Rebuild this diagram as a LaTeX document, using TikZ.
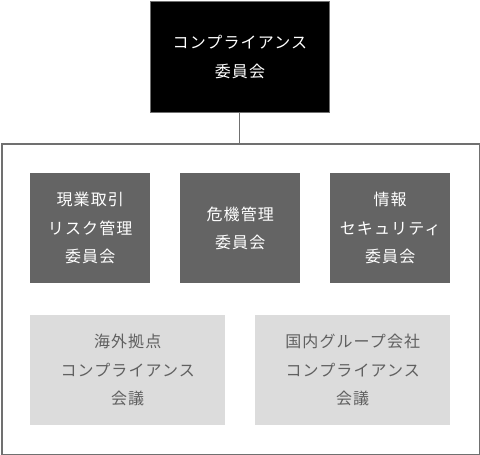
\documentclass[tikz,border=0pt]{standalone}
\usepackage{fontspec}
\newfontfamily\jp[LetterSpace=7]{Noto Sans CJK JP}
\definecolor{darkbox}{HTML}{646464}
\definecolor{lightbox}{HTML}{DCDCDC}
\definecolor{lighttext}{HTML}{606060}
\definecolor{frameline}{HTML}{707070}
\begin{document}
\begin{tikzpicture}[x=1pt,y=-1pt,
  boxbase/.style={inner sep=0pt, align=center, font=\jp\fontsize{16}{28.5}\selectfont, anchor=north west},
  topbox/.style={boxbase, fill=black, draw=frameline, line width=0.8pt, text=white, minimum width=179pt, minimum height=111pt},
  darkbox/.style={boxbase, fill=darkbox, text=white, minimum width=120pt, minimum height=110pt},
  lightbox/.style={boxbase, fill=lightbox, text=lighttext, minimum width=195pt, minimum height=110pt},
  link/.style={draw=frameline, line width=1pt}]
\useasboundingbox (0,0) rectangle (480,455);
\node[topbox] (top) at (150,1) {コンプライアンス\\委員会};
\node[draw=frameline, line width=1.5pt, minimum width=478pt, minimum height=311pt, inner sep=0pt, anchor=north west] (frame) at (1,143) {};
\draw[link] (top.south) -- (top.south |- frame.north);
\node[darkbox] (d1) at (30,173) {現業取引\\リスク管理\\委員会};
\node[darkbox] (d2) at (180,173) {危機管理\\委員会};
\node[darkbox] (d3) at (330,173) {情報\\セキュリティ\\委員会};
\node[lightbox] (l1) at (30,315) {海外拠点\\コンプライアンス\\会議};
\node[lightbox] (l2) at (255,315) {国内グループ会社\\コンプライアンス\\会議};
\end{tikzpicture}
\end{document}
